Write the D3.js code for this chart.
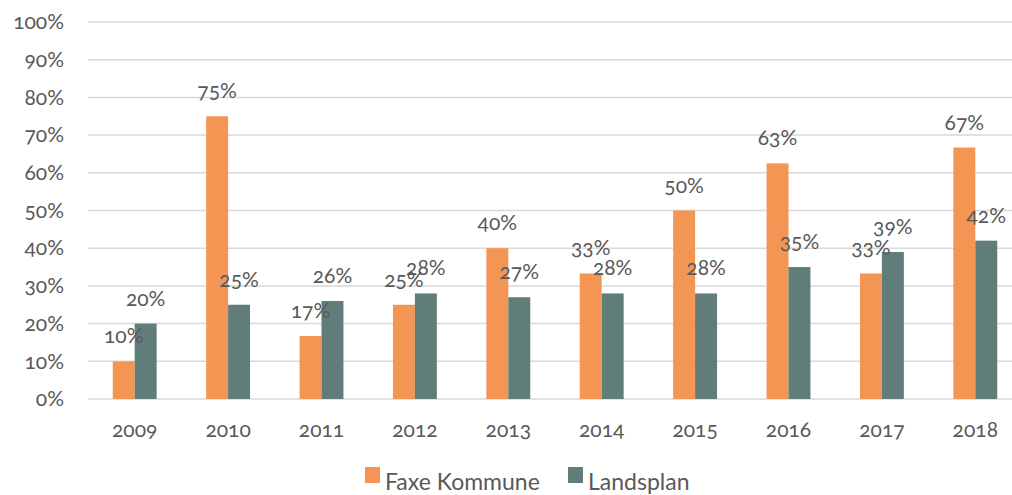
<!DOCTYPE html>
<html>
<head>
<meta charset="utf-8">
<script src="https://cdn.jsdelivr.net/npm/d3@7"></script>
<style>
	body { margin: 0; background: #fff; overflow: hidden; }
	#chartDiv { width: 1012px; height: 495px; overflow: hidden; }
	text { font-family: Lato, "Open Sans", sans-serif; font-variant-numeric: oldstyle-nums; fill: #595959; }
</style>
</head>
<body>
<div id="chartDiv"></div>
<script>
const years = ['2009','2010','2011','2012','2013','2014','2015','2016','2017','2018'];
const faxeVals = [10, 75, 16.7, 25, 40, 33.3, 50, 62.5, 33.3, 66.7];
const landsVals = [20, 25, 26, 28, 27, 28, 28, 35, 39, 42];
const seriesNames = ['Faxe Kommune', 'Landsplan'];
const seriesColors = ['#F39654', '#607D7A'];
const yTicks = [0,10,20,30,40,50,60,70,80,90,100];

// plot area runs a little past the right edge of the picture
const margin = { left: 88, right: -10, top: 22, bottom: 96 };
const W = 1012, H = 495;

function buildChart(){
	const svgObj = d3.select('#chartDiv').append('svg')
		.attr('width', W).attr('height', H);

	const innerW = W - margin.left - margin.right;
	const innerH = H - margin.top - margin.bottom;

	const g = svgObj.append('g')
		.attr('transform', `translate(${margin.left},${margin.top})`);

	const x0 = d3.scaleBand().domain(years).range([0, innerW]).paddingInner(0.53).paddingOuter(0.265);
	const x1 = d3.scaleBand().domain(seriesNames).range([0, x0.bandwidth()]);
	const y = d3.scaleLinear().domain([0, 100]).range([innerH, 0]);

	// gridlines
	g.selectAll('.grid')
		.data(yTicks)
		.enter().append('line')
		.attr('x1', 0).attr('x2', innerW)
		.attr('y1', d => y(d)).attr('y2', d => y(d))
		.attr('stroke', '#D9D9D9').attr('stroke-width', 1.5);

	// y labels
	const yAxis = d3.axisLeft(y).tickValues(yTicks).tickSize(0).tickPadding(24).tickFormat(d => d + '%');
	const ya = g.append('g').call(yAxis);
	ya.select('.domain').remove();
	ya.selectAll('text').style('font-size', '21px').attr('fill', '#595959');

	// x labels
	const xAxis = d3.axisBottom(x0).tickSize(0).tickPadding(23);
	const xa = g.append('g').attr('transform', `translate(0,${innerH})`).call(xAxis);
	xa.select('.domain').remove();
	xa.selectAll('text').style('font-size', '21px').attr('fill', '#595959');

	const rows = years.map((yr, i) => ({ yr, vals: [faxeVals[i], landsVals[i]] }));

	const grp = g.selectAll('.grp')
		.data(rows)
		.enter().append('g')
		.attr('transform', d => `translate(${x0(d.yr)},0)`);

	grp.selectAll('rect')
		.data(d => d.vals.map((v, j) => ({ v, s: seriesNames[j], c: seriesColors[j] })))
		.enter().append('rect')
		.attr('x', d => x1(d.s))
		.attr('width', x1.bandwidth())
		.attr('y', d => y(d.v))
		.attr('height', d => innerH - y(d.v))
		.attr('fill', d => d.c);

	grp.selectAll('.lbl')
		.data(d => d.vals.map((v, j) => ({ v, s: seriesNames[j] })))
		.enter().append('text')
		.attr('x', d => x1(d.s) + x1.bandwidth() / 2)
		.attr('y', d => y(d.v) - 18)
		.attr('text-anchor', 'middle')
		.style('font-size', '21px')
		.attr('fill', '#404040')
		.text(d => Math.round(d.v) + '%');

	// legend
	const leg = svgObj.append('g').attr('transform', 'translate(365,467)');
	const items = [{ n: seriesNames[0], c: seriesColors[0], x: 0 }, { n: seriesNames[1], c: seriesColors[1], x: 203 }];
	const li = leg.selectAll('g').data(items).enter().append('g')
		.attr('transform', d => `translate(${d.x},0)`);
	li.append('rect').attr('width', 15).attr('height', 16).attr('fill', d => d.c);
	li.append('text').attr('x', 20).attr('y', 23).style('font-size', '23px').text(d => d.n);
}

buildChart();
</script>
</body>
</html>
